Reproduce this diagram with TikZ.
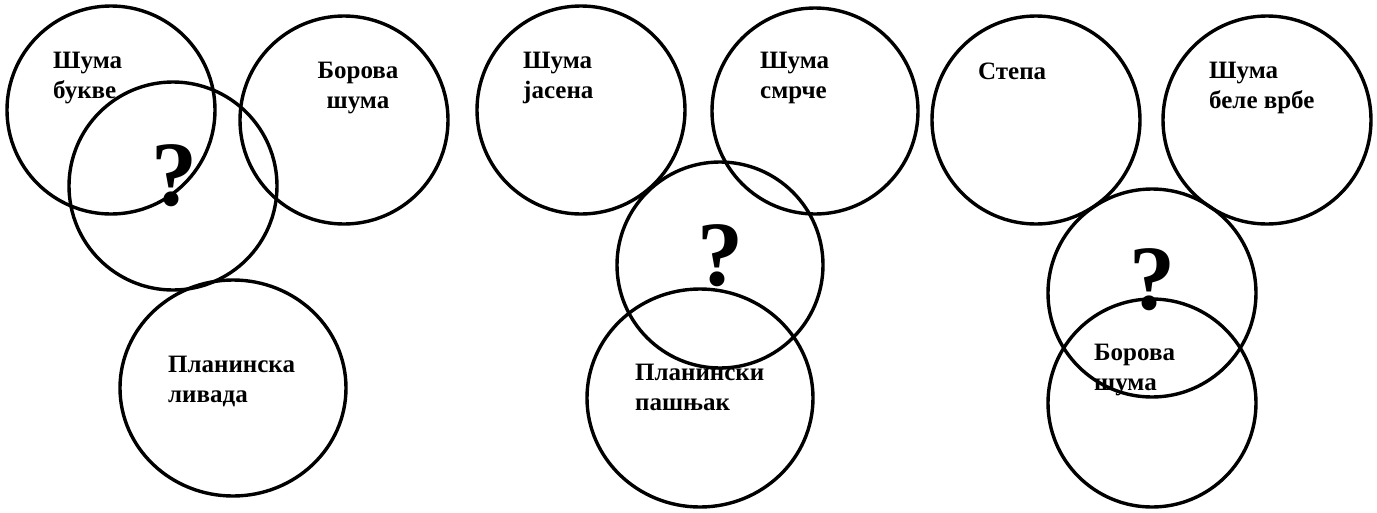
\documentclass[tikz,border=0pt]{standalone}
\usepackage{fontspec}
\setmainfont{Liberation Serif}
\usetikzlibrary{shapes.geometric}
\begin{document}
\begin{tikzpicture}[x=1pt,y=-1pt,
  ring/.style={draw=black,line width=3.4pt,circle,inner sep=0pt,minimum size=#1},
  oval/.style={draw=black,line width=3.4pt,ellipse,inner sep=0pt},
  lbl/.style={anchor=base west,inner sep=0pt,align=left,font=\bfseries\fontsize{25}{30}\selectfont},
  qm/.style={inner sep=0pt,font=\bfseries\fontsize{92}{92}\selectfont}]
\useasboundingbox (0,0) rectangle (1377,512);
% group 1
\node[lbl] (t1) at (53,98) {Шума\\букве};
\node[lbl,align=center,anchor=base] (t2) at (358,108) {Борова\\шума};
\node[qm] (q1) at (174,176) {?};
\node[lbl] (t3) at (168,402) {Планинска\\ливада};
\node[ring=208] (c1) at (111,110) {};
\node[ring=208] (c2) at (344,120) {};
\node[ring=208] (c3) at (173,186) {};
\node[oval,minimum width=226,minimum height=216] (c4) at (233,388) {};
% group 2
\node[lbl] (t4) at (523,98) {Шума\\јасена};
\node[lbl] (t5) at (760,98) {Шума\\смрче};
\node[qm] (q2) at (720,256) {?};
\node[lbl] (t6) at (635,410) {Планински\\пашњак};
\node[ring=208] (c5) at (581,110) {};
\node[ring=206] (c6) at (815,111) {};
\node[ring=206] (c7) at (720,265) {};
\node[oval,minimum width=226,minimum height=218] (c8) at (700,398) {};
% group 3
\node[lbl] (t7) at (978,79) {Степа};
\node[lbl] (t8) at (1209,108) {Шума\\беле врбе};
\node[qm] (q3) at (1152,280) {?};
\node[lbl] (t9) at (1094,390) {Борова\\шума};
\node[ring=208] (c9) at (1036,120) {};
\node[ring=208] (c10) at (1267,120) {};
\node[ring=208] (c11) at (1152,293) {};
\node[ring=208] (c12) at (1152,403) {};
\end{tikzpicture}
\end{document}
